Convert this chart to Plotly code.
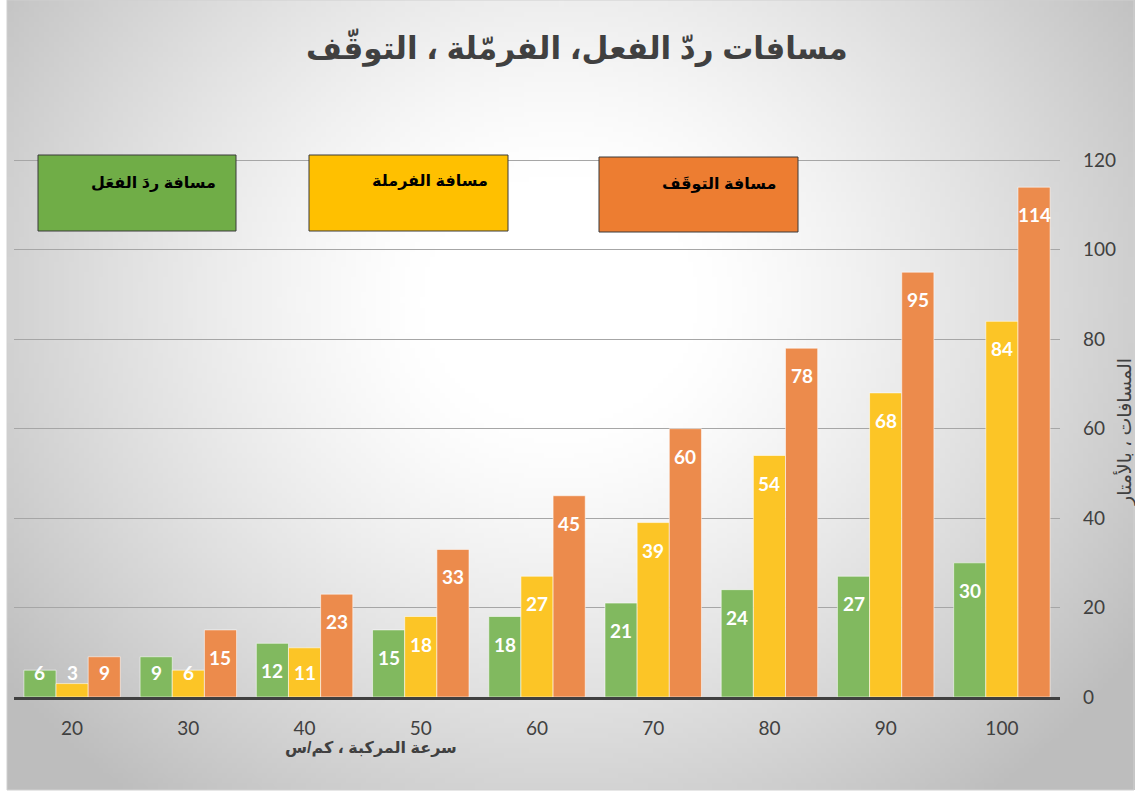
import base64, struct, zlib
import numpy as np
import plotly.graph_objects as go

# ---- data ----
speeds = ["20", "30", "40", "50", "60", "70", "80", "90", "100"]
reaction = [6, 9, 12, 15, 18, 21, 24, 27, 30]
braking = [3, 6, 11, 18, 27, 39, 54, 68, 84]
stopping = [9, 15, 23, 33, 45, 60, 78, 95, 114]
series_names = ["مسافة ردَ الفعَل", "مسافة الفرملة", "مسافة التوقَف"]
title_text = "مسافات ردّ الفعل، الفرمّلة ، التوقّف"
x_title = "سرعة المركبة ، كم/س"
y_title = "المسافات ، بالأمتار"

# ---- geometry helpers (pixel -> paper) ----
W, H = 1135, 792
L, R, T, B = 14, 1060, 159, 697
Y_MAX = 120.3
BARGAP = 0.17
def px(x):
    return (x - L) / (R - L)
def py(y):
    return (B - y) / (B - T)
units_per_px = Y_MAX / (B - T)

# ---- radial gradient background image ----
def make_png(arr):
    h, w, _ = arr.shape
    raw = b"".join(b"\x00" + arr[i].tobytes() for i in range(h))
    def chunk(tag, data):
        c = struct.pack(">I", len(data)) + tag + data
        return c + struct.pack(">I", zlib.crc32(tag + data) & 0xffffffff)
    return (b"\x89PNG\r\n\x1a\n" + chunk(b"IHDR", struct.pack(">IIBBBBB", w, h, 8, 2, 0, 0, 0))
            + chunk(b"IDAT", zlib.compress(raw, 9)) + chunk(b"IEND", b""))

gw, gh = 228, 158
xs = np.linspace(7, 1135, gw)[None, :]
ys = np.linspace(0, 790, gh)[:, None]
d = np.sqrt(((xs - 560) / 640) ** 2 + ((ys - 300) / 580) ** 2)
v = 255 - 66 * np.clip((d - 0.22) / 0.88, 0, 1) ** 1.25
img = np.clip(np.stack([v, v, v], axis=-1), 0, 255).astype(np.uint8)
bg_uri = "data:image/png;base64," + base64.b64encode(make_png(img)).decode()

bar_colors = ["rgb(129,185,95)", "rgb(252,197,38)", "rgb(236,139,76)"]
box_colors = ["#70AD47", "#FFC000", "#ED7D31"]

fig = go.Figure()
for name, vals, col in zip(series_names, [reaction, braking, stopping], bar_colors):
    fig.add_trace(go.Bar(
        x=speeds, y=vals, name=name,
        marker=dict(color=col, line=dict(color="rgba(255,255,255,0.55)", width=1)),
        hoverinfo="x+y",
    ))

shapes = [
    dict(type="rect", xref="paper", yref="paper", x0=px(7), x1=px(1134), y0=py(790), y1=py(0),
         line=dict(color="#d0d0d0", width=1), fillcolor="rgba(0,0,0,0)", layer="above"),
]
annotations = [
    dict(text=title_text, xref="paper", yref="paper", x=px(577), y=py(47), showarrow=False,
         font=dict(family="Arial, DejaVu Sans, sans-serif", size=31, color="#404040", weight="bold"),
         xanchor="center", yanchor="middle"),
    dict(text=x_title, xref="paper", yref="paper", x=px(371), y=py(748), showarrow=False,
         font=dict(family="Arial, DejaVu Sans, sans-serif", size=16, color="#404040", weight="bold"),
         xanchor="center", yanchor="middle"),
    dict(text=y_title, xref="paper", yref="paper", x=px(1124), y=py(432), showarrow=False,
         textangle=-90,
         font=dict(family="Arial, DejaVu Sans, sans-serif", size=19, color="#404040"),
         xanchor="center", yanchor="middle"),
]

# data labels: inside end of each bar, clamped near the base for short bars
band_px = (R - L) / len(speeds)
bar_px = band_px * (1 - BARGAP) / 3
for k, vals in enumerate([reaction, braking, stopping]):
    shift = (k - 1) * bar_px
    for i, val in enumerate(vals):
        yc = max(val - 27.5 * units_per_px, 25 * units_per_px)
        annotations.append(dict(text=str(val), x=i, y=yc, xref="x", yref="y", showarrow=False,
                                xshift=shift, xanchor="center", yanchor="middle",
                                font=dict(family="Lato, Open Sans, sans-serif", size=19,
                                          color="white", weight="bold")))

boxes = [(38, 236, 155, 231, 218, 183), (309, 508, 155, 231, 490, 181), (599, 798, 157, 232, 778, 184)]
for (x0, x1, y0, y1, tx, ty), col, name in zip(boxes, box_colors, series_names):
    shapes.append(dict(type="rect", xref="paper", yref="paper", x0=px(x0), x1=px(x1), y0=py(y1), y1=py(y0),
                       fillcolor=col, line=dict(color="#3a3a3a", width=1), layer="above"))
    annotations.append(dict(text=name, xref="paper", yref="paper", x=px(tx), y=py(ty), showarrow=False,
                            xanchor="right", yanchor="middle",
                            font=dict(family="Arial, DejaVu Sans, sans-serif", size=16, color="black", weight="bold")))

fig.update_layout(
    width=W, height=H,
    margin=dict(l=L, r=W - R, t=T, b=H - B, pad=0),
    paper_bgcolor="white", plot_bgcolor="rgba(0,0,0,0)",
    barmode="group", bargap=BARGAP, bargroupgap=0.0,
    showlegend=False,
    shapes=shapes, annotations=annotations,
    images=[dict(source=bg_uri, xref="paper", yref="paper", x=px(7), y=py(0),
                 sizex=px(1135) - px(7), sizey=py(0) - py(790), sizing="stretch",
                 xanchor="left", yanchor="top", layer="below")],
    xaxis=dict(type="category", showgrid=False, showline=True, linecolor="#404040", linewidth=3,
               range=[-0.5, len(speeds) - 0.5],
               ticks="", ticklabelstandoff=12,
               tickfont=dict(family="Lato, Open Sans, sans-serif", size=19, color="#404040")),
    yaxis=dict(side="right", range=[0, Y_MAX], tickvals=[0, 20, 40, 60, 80, 100, 120],
               showgrid=True, gridcolor="#a6a6a6", gridwidth=1,
               zeroline=False, showline=False, ticks="", ticklabelstandoff=22,
               tickfont=dict(family="Lato, Open Sans, sans-serif", size=19, color="#404040")),
)

fig.write_html("out.html", config={"displayModeBar": False},
               post_script="document.body.style.margin='0';document.body.style.overflow='hidden';")
